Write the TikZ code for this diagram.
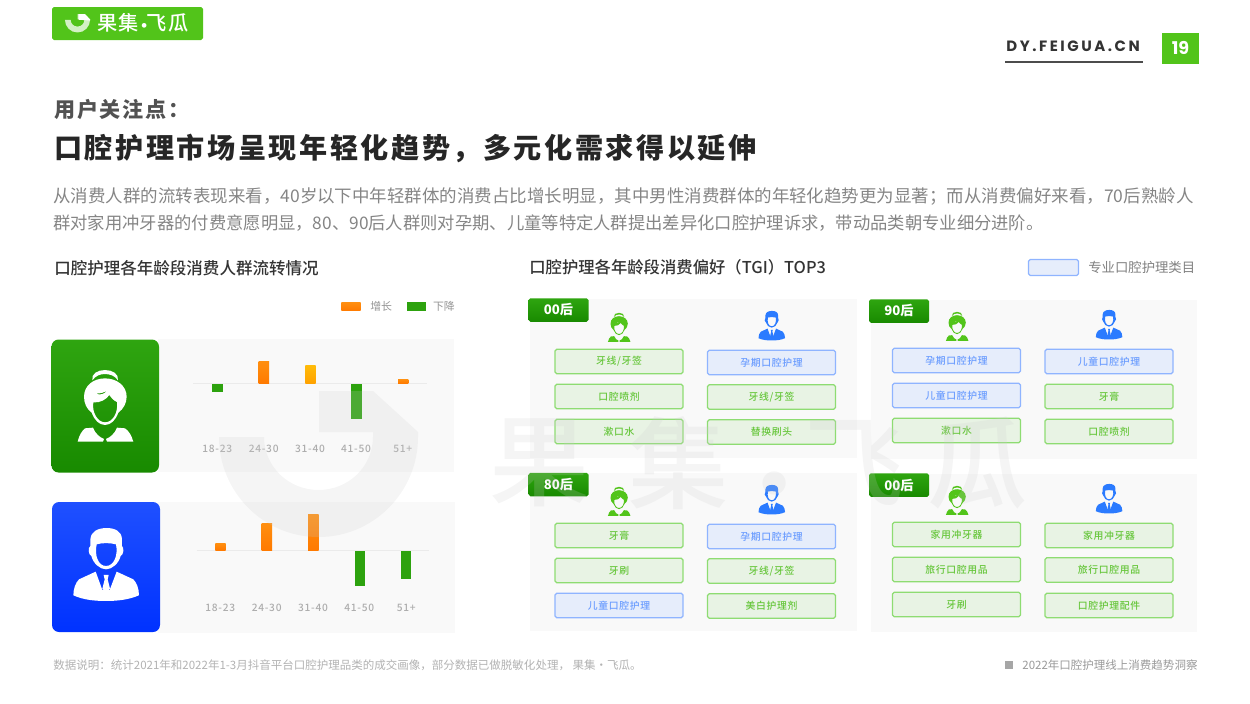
\documentclass[tikz,border=0pt]{standalone}
\usepackage{fontspec}
\setmainfont{Noto Sans CJK SC}
\newfontfamily\cnmed[UprightFont=* Medium]{Noto Sans CJK SC}
\newfontfamily\cnwide[LetterSpace=8]{Noto Sans CJK SC}
\newfontfamily\cntitle[LetterSpace=9]{Noto Sans CJK SC}
\newfontfamily\cnbox[LetterSpace=7,UprightFont=* Medium]{Noto Sans CJK SC}
\newfontfamily\latwide[LetterSpace=17]{Poppins}
\newfontfamily\latbold{Poppins}
\definecolor{brandgreen}{HTML}{52C41A}
\definecolor{darkgreenA}{HTML}{2FA510}
\definecolor{darkgreenB}{HTML}{188A00}
\definecolor{brandblue}{HTML}{2B7BFF}
\definecolor{panelgray}{HTML}{F9F9F9}
\definecolor{boxgreenline}{HTML}{8EDC72}
\definecolor{boxgreenfill}{HTML}{E8F3E4}
\definecolor{boxgreentext}{HTML}{66C63A}
\definecolor{boxblueline}{HTML}{8FB4FF}
\definecolor{boxbluefill}{HTML}{E6EDFB}
\definecolor{boxbluetext}{HTML}{6A9CFF}
\definecolor{axisgray}{HTML}{ADADAD}
\definecolor{barorangeA}{HTML}{FF8F10}
\definecolor{barorangeB}{HTML}{FF7A00}
\definecolor{iconblueA}{HTML}{1F50FF}
\definecolor{iconblueB}{HTML}{0032FF}
\tikzset{
  greenbox/.style={draw=boxgreenline,fill=boxgreenfill,text=boxgreentext,line width=0.75pt,rounded corners=1pt,
    minimum width=2.56cm,minimum height=0.49cm,inner sep=0,font=\cnbox\fontsize{5.6pt}{7pt}\selectfont},
  bluebox/.style={greenbox,draw=boxblueline,fill=boxbluefill,text=boxbluetext},
  agetag/.style={rounded corners=1pt,top color=darkgreenA,bottom color=darkgreenB,text=white,inner sep=0,
    minimum width=1.2cm,minimum height=0.47cm,font=\bfseries\fontsize{7.5pt}{9pt}\selectfont},
  agelabel/.style={text=axisgray,inner sep=0,font=\cnbox\fontsize{5.8pt}{7pt}\selectfont},
  barup/.style={top color=barorangeA,bottom color=barorangeB},
  bardown/.style={fill=darkgreenA!90!darkgreenB},
  markfont/.style={text=black!20,opacity=0.2,inner sep=0,font=\cnmed\fontsize{57pt}{60pt}\selectfont}
}
\newcommand{\logomark}[4]{%
  \begin{scope}[shift={(#1,#2)},scale=#3,shift={(-318.5,-464)}]
    \path[#4] (219,437) .. controls (219,492) and (263.5,537) .. (318.5,537)
      .. controls (373.5,537) and (418,492) .. (418,437) -- (418,432) -- (373,391) -- (319,391)
      -- (319,432) -- (373,432) -- (373,437) .. controls (373,466.5) and (348.5,490) .. (318.5,490)
      .. controls (288.5,490) and (264,466.5) .. (264,437) -- cycle;
  \end{scope}}
\newcommand{\womanicon}[4]{%
  \begin{scope}[shift={(#1,#2)},scale=#3,shift={(-120,-130)}]
    \path[fill=#4] (82,56) .. controls (78,36) and (98,25) .. (120,25) .. controls (142,25) and (162,36) .. (159,56)
      .. controls (150,42) and (135,37) .. (120,37) .. controls (105,37) and (92,42) .. (82,56) -- cycle;
    \path[fill=#4,even odd rule] (120,50) .. controls (85,50) and (57,72) .. (57,105) .. controls (57,125) and (65,142) .. (80,153)
      .. controls (88,175) and (102,190) .. (120,190) .. controls (138,190) and (152,175) .. (160,153)
      .. controls (175,142) and (185,125) .. (185,105) .. controls (185,72) and (155,50) .. (120,50) -- cycle
      (85,122) .. controls (105,125) and (125,112) .. (133,100) .. controls (140,110) and (148,118) .. (156,121)
      .. controls (160,150) and (145,182) .. (120,182) .. controls (97,182) and (80,150) .. (85,122) -- cycle
      (92,95) .. controls (105,97) and (118,92) .. (127,86) .. controls (120,96) and (105,103) .. (92,95) -- cycle;
    \path[fill=#4] (60,200) -- (84,198) .. controls (90,215) and (105,228) .. (117,232) -- (114,240) -- (38,240)
      .. controls (42,222) and (50,208) .. (60,200) -- cycle
      (180,200) -- (156,198) .. controls (150,215) and (135,228) .. (123,232) -- (126,240) -- (205,240)
      .. controls (200,222) and (192,208) .. (180,200) -- cycle;
  \end{scope}}
\newcommand{\manicon}[4]{%
  \begin{scope}[shift={(#1,#2)},scale=#3,shift={(-123,-132)}]
    \path[fill=#4,even odd rule] (76,58) .. controls (78,33) and (100,24) .. (125,24) .. controls (150,24) and (170,33) .. (171,58)
      -- (171,78) .. controls (178,82) and (176,105) .. (167,108) .. controls (161,130) and (142,148) .. (123,148)
      .. controls (104,148) and (85,130) .. (79,108) .. controls (70,105) and (68,82) .. (76,78) -- cycle
      (95,73) .. controls (110,68) and (136,68) .. (153,73) .. controls (160,105) and (147,138) .. (123,138)
      .. controls (99,138) and (88,105) .. (95,73) -- cycle;
    \path[fill=#4] (92,155) -- (112,210) -- (134,210) -- (155,155) -- (205,178) .. controls (215,188) and (222,205) .. (222,226)
      .. controls (190,240) and (155,243) .. (123,243) .. controls (90,243) and (55,240) .. (25,226)
      .. controls (25,205) and (32,188) .. (42,178) -- cycle;
    \path[fill=#4] (116,165) -- (131,165) -- (128,178) -- (135,206) -- (123,218) -- (112,206) -- (119,178) -- cycle;
  \end{scope}}
\begin{document}
\begin{tikzpicture}[x=0.02cm,y=-0.02cm]
  \useasboundingbox (0,0) rectangle (1250,703);
  \path[rounded corners=1pt,fill=brandgreen] (52,7) rectangle (203,40);
  \logomark{77.5}{23.3}{0.126}{fill=white,fill opacity=0.75}
  \path[fill=white] (78.5,14) -- (85,14) -- (90,19.5) -- (90,20.5) -- (78.5,19.7) -- cycle;
  \foreach \cx/\cy/\ch [count=\i] in {108/23/果,129/23/集,145/28/·,157/23/飞,179/23/瓜}
    \path (\cx,\cy) node[text=white,inner sep=0,font=\cnmed\fontsize{11.5pt}{12pt}\selectfont] (logotext\i) {\ch};

  \path (1006,46) node[anchor=west,inner sep=0,text=black!80,font=\latwide\bfseries\fontsize{8.5pt}{10pt}\selectfont] (site) {DY.FEIGUA.CN};
  \draw[line width=1pt,black!70] (1005,62) -- (1143,62);
  \path[fill=brandgreen] (1162,33) rectangle (1199,64);
  \path (1180.5,48) node[text=white,inner sep=0,font=\latbold\bfseries\fontsize{10pt}{10pt}\selectfont] (pageno) {19};

  \path (54,110) node[anchor=west,inner sep=0,text=black!68,font=\cnwide\bfseries\fontsize{12pt}{14pt}\selectfont] (kicker) {用户关注点：};
  \path (54,148) node[anchor=west,inner sep=0,text=black!85,font=\cntitle\bfseries\fontsize{16pt}{18pt}\selectfont] (title) {口腔护理市场呈现年轻化趋势，多元化需求得以延伸};
  \path (53,197) node[anchor=west,inner sep=0,text=black!48,font=\fontsize{9.95pt}{12pt}\selectfont] (bodya) {从消费人群的流转表现来看，40岁以下中年轻群体的消费占比增长明显，其中男性消费群体的年轻化趋势更为显著；而从消费偏好来看，70后熟龄人};
  \path (53,223) node[anchor=west,inner sep=0,text=black!48,font=\fontsize{9.85pt}{12pt}\selectfont] (bodyb) {群对家用冲牙器的付费意愿明显，80、90后人群则对孕期、儿童等特定人群提出差异化口腔护理诉求，带动品类朝专业细分进阶。};

  \path (54,268) node[anchor=west,inner sep=0,text=black!80,font=\cnmed\fontsize{9.4pt}{12pt}\selectfont] (headleft) {口腔护理各年龄段消费人群流转情况};
  \path (529,267) node[anchor=west,inner sep=0,text=black!80,font=\cnmed\fontsize{9.3pt}{12pt}\selectfont] (headright) {口腔护理各年龄段消费偏好（TGI）TOP3};
  \path[draw=boxblueline,fill=boxbluefill,line width=0.75pt,rounded corners=1pt] (1028.5,259.5) rectangle (1078.5,275.5);
  \path (1088,267) node[anchor=west,inner sep=0,text=black!50,font=\fontsize{7.6pt}{9pt}\selectfont] (keytext) {专业口腔护理类目};

  \path[barup] (341.3,302.3) rectangle (360.7,310.7);
  \path (370,306) node[anchor=west,inner sep=0,text=black!42,font=\fontsize{6.2pt}{8pt}\selectfont] (keyup) {增长};
  \path[bardown] (406.7,302.3) rectangle (426,310.7);
  \path (432.7,306) node[anchor=west,inner sep=0,text=black!42,font=\fontsize{6.2pt}{8pt}\selectfont] (keydown) {下降};

  \path[fill=panelgray] (158,339) rectangle (454,472);
  \path[rounded corners=4pt,top color=darkgreenA,bottom color=darkgreenB] (51.5,339.5) rectangle (159,472.5);
  \womanicon{105}{405}{0.333}{white}
  \path[fill=panelgray] (158,502) rectangle (455,633);
  \path[rounded corners=4pt,top color=iconblueA,bottom color=iconblueB] (52,502) rectangle (160,632);
  \manicon{106}{564}{0.333}{white}

  \draw[black!8,line width=0.4pt] (193,383.5) -- (427,383.5);
  \draw[black!8,line width=0.4pt] (196.7,550.5) -- (429,550.5);
  \path[bardown] (212.3,384) rectangle (222.7,391.7);
  \path[barup] (258.7,361.3) rectangle (269,383.3);
  \path[top color=barorangeA!60!yellow,bottom color=barorangeB!70!yellow] (305.3,365) rectangle (315.7,383.3);
  \path[bardown] (351.3,384.3) rectangle (361.7,419);
  \path[barup] (398,379.3) rectangle (408.3,383.3);
  \path[barup] (215.3,543.3) rectangle (225.7,550);
  \path[barup] (261.7,523) rectangle (272,550);
  \path[barup] (308,514) rectangle (318.7,550);
  \path[bardown] (355,551) rectangle (365,585.7);
  \path[bardown] (401.3,551) rectangle (411.3,579);
  \foreach \cx/\txt [count=\i] in {217.3/18-23,263.7/24-30,310/31-40,356/41-50,402.7/51+}
    \path (\cx,448.7) node[agelabel] (agea\i) {\txt};
  \foreach \cx/\txt [count=\i] in {220.3/18-23,266.7/24-30,313/31-40,359.3/41-50,406.3/51+}
    \path (\cx,607.7) node[agelabel] (ageb\i) {\txt};

  \path[fill=panelgray] (530,299) rectangle (857,458);
  \path[fill=panelgray] (871,300) rectangle (1197,459);
  \path[fill=panelgray] (530,473) rectangle (857,631);
  \path[fill=panelgray] (871,474) rectangle (1197,632);
  \path (558.5,310) node[agetag] (tagnw) {00后};
  \path (899,311) node[agetag] (tagne) {90后};
  \path (558.5,484.5) node[agetag] (tagsw) {80后};
  \path (899,485) node[agetag] (tagse) {00后};

  \womanicon{619}{327}{0.135}{brandgreen}
  \womanicon{957}{326}{0.135}{brandgreen}
  \womanicon{619}{501}{0.135}{brandgreen}
  \womanicon{957}{500}{0.135}{brandgreen}
  \manicon{771.7}{325.5}{0.135}{brandblue}
  \manicon{1109}{324.5}{0.135}{brandblue}
  \manicon{771.7}{499.5}{0.135}{brandblue}
  \manicon{1109}{498.5}{0.135}{brandblue}

  \foreach \cx/\cy/\txt [count=\i] in {619/361.5/{牙线/牙签},619/396.5/口腔喷剂,619/431.5/漱口水,
    771.5/397/{牙线/牙签},771.5/432/替换刷头,
    956.5/430.5/漱口水,1109/396.5/牙膏,1109/431.5/口腔喷剂,
    619/535.5/牙膏,619/570.5/牙刷,771.5/571/{牙线/牙签},771.5/606/美白护理剂,
    956.5/534.5/家用冲牙器,956.5/569.5/旅行口腔用品,956.5/604.5/牙刷,
    1109/535.5/家用冲牙器,1109/570/旅行口腔用品,1109/605.5/口腔护理配件}
    \path (\cx,\cy) node[greenbox] (green\i) {\txt};
  \foreach \cx/\cy/\txt [count=\i] in {771.5/362.5/孕期口腔护理,956.5/360.5/孕期口腔护理,956.5/395.5/儿童口腔护理,
    1109/361.5/儿童口腔护理,771.5/536.5/孕期口腔护理,619/605.5/儿童口腔护理}
    \path (\cx,\cy) node[bluebox] (blue\i) {\txt};

  \path (53,665) node[anchor=west,inner sep=0,text=black!30,font=\fontsize{6.55pt}{8pt}\selectfont] (notes) {数据说明：统计2021年和2022年1-3月抖音平台口腔护理品类的成交画像，部分数据已做脱敏化处理， 果集·飞瓜。};
  \path[fill=black!35] (1005,661) rectangle (1013,669);
  \path (1022,665) node[anchor=west,inner sep=0,text=black!40,font=\fontsize{6.55pt}{8pt}\selectfont] (report) {2022年口腔护理线上消费趋势洞察};

  \logomark{318.5}{464}{1}{fill=black!20,fill opacity=0.2}
  \foreach \cx/\cy/\ch [count=\i] in {540/463/果,679/463/集,775/497/·,855/463/飞,978/463/瓜}
    \path (\cx,\cy) node[markfont] (mark\i) {\ch};
\end{tikzpicture}
\end{document}
